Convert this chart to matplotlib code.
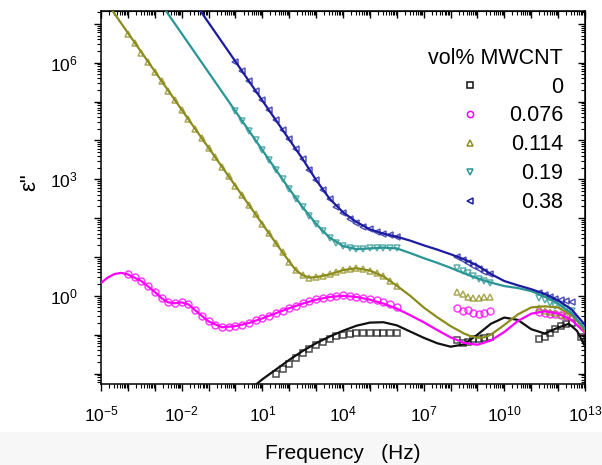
import numpy as np
import matplotlib
matplotlib.use('Agg')
import matplotlib.pyplot as plt
from matplotlib.ticker import LogLocator, FuncFormatter, NullFormatter
from matplotlib.patches import Rectangle

plt.rcParams['font.family'] = ['Liberation Sans', 'DejaVu Sans']
plt.rcParams['mathtext.default'] = 'regular'

# legend labels (vol% MWCNT), colours, markers
labels = ['0', '0.076', '0.114', '0.19', '0.38']
colors = ['#111111', '#ff00ff', '#8c8c1e', '#2a9595', '#1c1ca0']
markers = ['s', 'o', '^', 'v', '<']

# fitted curves: log10(f / Hz) and log10(eps'')
fit_f_0 = [0.7, 1, 1.5, 2, 2.5, 3, 3.5, 4, 4.5, 5, 5.5, 6, 6.5, 7, 7.5, 8, 8.5, 9, 9.5, 10,
           10.5, 11, 11.5, 12, 12.4, 12.7, 13]
fit_e_0 = [-2.32, -2.15, -1.9, -1.65, -1.42, -1.22, -1.05, -0.9, -0.77, -0.69, -0.68, -0.76,
           -0.92, -1.08, -1.22, -1.31, -1.25, -1.0, -0.72, -0.56, -0.62, -0.86, -0.97, -0.82,
           -0.72, -0.9, -1.3]

fit_f_1 = [-5, -4.75, -4.5, -4.25, -4, -3.5, -3, -2.75, -2.5, -2.25, -2, -1.75, -1.5, -1, -0.5,
           0, 0.5, 1, 1.5, 2, 2.5, 3, 3.5, 4, 4.5, 5, 5.5, 6, 6.5, 7, 7.5, 8, 8.5, 9, 9.5, 10,
           10.5, 11, 11.5, 12, 12.5, 13]
fit_e_1 = [0.33, 0.47, 0.56, 0.59, 0.55, 0.38, 0.1, -0.06, -0.17, -0.19, -0.17, -0.22, -0.37,
           -0.66, -0.81, -0.78, -0.7, -0.58, -0.45, -0.32, -0.2, -0.1, -0.03, 0.0, -0.03, -0.1,
           -0.2, -0.33, -0.5, -0.68, -0.88, -1.07, -1.21, -1.26, -1.15, -0.93, -0.65, -0.46,
           -0.4, -0.46, -0.62, -0.95]

fit_f_2 = [-4.6, -2, 0, 1.5, 2.0, 2.25, 2.5, 2.75, 3.0, 3.5, 4.0, 4.5, 5.0, 5.5, 6.0, 6.5, 7.0,
           7.5, 8.0, 8.5, 8.75, 9.0, 9.25, 9.5, 10.0, 10.5, 11.0, 11.5, 12.0, 12.5, 12.75, 13.0]
fit_e_2 = [7.36, 4.79, 2.83, 1.36, 0.88, 0.66, 0.53, 0.47, 0.48, 0.55, 0.66, 0.71, 0.65, 0.5,
           0.26, 0.0, -0.3, -0.55, -0.78, -0.97, -1.04, -1.08, -1.07, -1.0, -0.75, -0.48, -0.3,
           -0.27, -0.3, -0.5, -0.68, -0.92]

fit_f_3 = [-2.6, 0, 1.5, 2.0, 2.5, 3.0, 3.5, 4.0, 4.5, 5.0, 5.5, 6.0, 6.5, 7.0, 7.5, 8.0, 8.5,
           9.0, 9.5, 10.0, 10.5, 11.0, 11.5, 12.0, 12.5, 13.0]
fit_e_3 = [7.35, 4.75, 3.25, 2.75, 2.28, 1.85, 1.5, 1.28, 1.2, 1.22, 1.24, 1.22, 1.1, 0.97,
           0.85, 0.72, 0.58, 0.45, 0.34, 0.25, 0.2, 0.12, -0.02, -0.2, -0.45, -0.85]

fit_f_4 = [-1.35, 0, 2.5, 3.0, 3.5, 4.0, 4.5, 5.0, 5.5, 6.0, 6.5, 7.0, 7.5, 8.0, 8.5, 9.0, 9.5,
           10.0, 10.5, 11.0, 11.5, 12.0, 12.5, 13.0]
fit_e_4 = [7.38, 6.03, 3.52, 2.98, 2.5, 2.15, 1.9, 1.71, 1.6, 1.52, 1.42, 1.3, 1.19, 1.07, 0.94,
           0.78, 0.56, 0.38, 0.27, 0.17, 0.05, -0.12, -0.35, -0.75]

# measured points, low frequency run (quarter-decade steps up to 10^6 Hz)
lo_start = [1.5, -4.0, -4.0, 0.0, 0.0]
lo_e_0 = [-2.0, -1.88, -1.75, -1.6, -1.48, -1.37, -1.27, -1.18, -1.1, -1.04, -1.0, -0.98,
          -0.97, -0.96, -0.96, -0.96, -0.96, -0.96, -0.96]
lo_e_1 = [0.55, 0.48, 0.38, 0.25, 0.1, -0.06, -0.17, -0.18, -0.16, -0.22, -0.36, -0.52, -0.66,
          -0.76, -0.8, -0.8, -0.78, -0.74, -0.69, -0.63, -0.57, -0.51, -0.45, -0.38, -0.32,
          -0.25, -0.19, -0.14, -0.09, -0.05, -0.02, 0.0, 0.01, 0.0, -0.02, -0.05, -0.08, -0.12,
          -0.16, -0.22, -0.3]
lo_e_2 = [6.75, 6.51, 6.26, 6.02, 5.77, 5.53, 5.28, 5.04, 4.79, 4.55, 4.30, 4.06, 3.81, 3.57,
          3.32, 3.08, 2.83, 2.59, 2.34, 2.10, 1.85, 1.61, 1.36, 1.12, 0.88, 0.66, 0.53, 0.47,
          0.48, 0.51, 0.55, 0.61, 0.66, 0.7, 0.71, 0.69, 0.65, 0.58, 0.5, 0.38, 0.26]
lo_e_3 = [4.75, 4.5, 4.25, 4.0, 3.75, 3.5, 3.25, 3.0, 2.75, 2.5, 2.28, 2.05, 1.85, 1.66, 1.5,
          1.37, 1.28, 1.22, 1.2, 1.21, 1.22, 1.23, 1.24, 1.24, 1.23]
lo_e_4 = [6.03, 5.78, 5.53, 5.28, 5.03, 4.78, 4.53, 4.28, 4.03, 3.78, 3.52, 3.25, 2.98, 2.72,
          2.48, 2.28, 2.12, 1.98, 1.87, 1.78, 1.71, 1.65, 1.6, 1.56, 1.52]

# measured points, high frequency runs
hf1_f = [8.25, 8.45, 8.65, 8.85, 9.05, 9.25, 9.45]
hf2_f = [11.3, 11.5, 11.7, 11.9, 12.1, 12.3, 12.5]
hf2_f_0 = [11.3, 11.5, 11.7, 11.9, 12.1, 12.3, 12.5, 12.85]
hf1_e_0 = [-1.15, -1.22, -1.18, -1.12, -1.1, -1.08, -1.05]
hf2_e_0 = [-1.12, -1.05, -0.95, -0.85, -0.78, -0.72, -0.7, -1.05]
hf1_e_1 = [-0.32, -0.4, -0.36, -0.43, -0.46, -0.43, -0.38]
hf2_e_1 = [-0.42, -0.45, -0.47, -0.48, -0.5, -0.52, -0.55]
hf1_e_2 = [0.1, 0.05, -0.02, -0.05, -0.05, -0.04, -0.02]
hf2_e_2 = [-0.32, -0.38, -0.42, -0.45, -0.5, -0.52, -0.55]
hf1_e_3 = [0.72, 0.65, 0.58, 0.5, 0.43, 0.38, 0.33]
hf2_e_3 = [-0.05, -0.12, -0.18, -0.25, -0.3, -0.35, -0.4]
hf1_e_4 = [1.0, 0.92, 0.84, 0.77, 0.7, 0.62, 0.55]
hf2_e_4 = [0.08, 0.03, -0.02, -0.07, -0.1, -0.13, -0.16]

fits = [(fit_f_0, fit_e_0), (fit_f_1, fit_e_1), (fit_f_2, fit_e_2),
        (fit_f_3, fit_e_3), (fit_f_4, fit_e_4)]
lo = [lo_e_0, lo_e_1, lo_e_2, lo_e_3, lo_e_4]
hf1 = [hf1_e_0, hf1_e_1, hf1_e_2, hf1_e_3, hf1_e_4]
hf2 = [(hf2_f_0, hf2_e_0), (hf2_f, hf2_e_1), (hf2_f, hf2_e_2), (hf2_f, hf2_e_3), (hf2_f, hf2_e_4)]

fig = plt.figure(figsize=(6.02, 4.65), dpi=100)
fig.patches.append(Rectangle((0, 0), 1, 0.07, transform=fig.transFigure,
                             color='#f7f7f7', zorder=-1))
ax = fig.add_axes([101 / 602, 81 / 465, 484 / 602, 373 / 465])

handles = []
for i in range(5):
    mk = dict(marker=markers[i], ls='none', ms=5, mfc='none', mec=colors[i], mew=1.1,
              alpha=0.75, zorder=2)
    lf = lo_start[i] + 0.25 * np.arange(len(lo[i]))
    h, = ax.plot(10.0 ** lf, 10.0 ** np.array(lo[i]), label=labels[i], **mk)
    ax.plot(10.0 ** np.array(hf1_f), 10.0 ** np.array(hf1[i]), **mk)
    ax.plot(10.0 ** np.array(hf2[i][0]), 10.0 ** np.array(hf2[i][1]), **mk)
    ax.plot(10.0 ** np.array(fits[i][0]), 10.0 ** np.array(fits[i][1]), color=colors[i],
            lw=1.6, zorder=3)
    handles.append(h)

ax.set_xscale('log')
ax.set_yscale('log')
ax.set_xlim(1e-5, 1e13)
ax.set_ylim(10 ** -2.27, 10 ** 7.33)


def xfmt(v, pos):
    e = int(round(np.log10(v)))
    return r'$10^{%d}$' % e if (e + 5) % 3 == 0 else ''


def yfmt(v, pos):
    e = int(round(np.log10(v)))
    return r'$10^{%d}$' % e if e % 3 == 0 else ''


def log_ticks(axis):
    axis.set_major_locator(LogLocator(base=10, numticks=40))
    axis.set_minor_locator(LogLocator(base=10, subs=np.arange(2, 10), numticks=40))
    axis.set_minor_formatter(NullFormatter())


log_ticks(ax.xaxis)
log_ticks(ax.yaxis)
ax.xaxis.set_major_formatter(FuncFormatter(xfmt))
ax.yaxis.set_major_formatter(FuncFormatter(yfmt))
ax.tick_params(axis='x', which='major', direction='out', length=5, width=1, pad=10,
               labelsize=12.5)
ax.tick_params(axis='y', which='major', direction='out', length=5, width=1, pad=12,
               labelsize=12.5)
ax.tick_params(which='minor', direction='out', length=3, width=0.8)
for s in ax.spines.values():
    s.set_linewidth(1.1)

# mirrored ticks on top and right point inwards
top = ax.secondary_xaxis('top')
right = ax.secondary_yaxis('right')
for axis in [top.xaxis, right.yaxis]:
    log_ticks(axis)
    axis.set_major_formatter(NullFormatter())
for sec in [top, right]:
    sec.tick_params(which='major', direction='in', length=5, width=1)
    sec.tick_params(which='minor', direction='in', length=3, width=0.8)

ax.set_xlabel('Frequency   (Hz)', fontsize=15)
ax.xaxis.set_label_coords(0.5, -0.16)
ax.set_ylabel('ε"', fontsize=16)
ax.yaxis.set_label_coords(-0.125, 0.54)

leg = ax.legend(handles, labels, loc='upper right', bbox_to_anchor=(0.955, 0.902),
                frameon=False, title='vol% MWCNT', alignment='right', fontsize=15.5,
                title_fontsize=15.5, handlelength=0.8, handletextpad=1.4,
                labelspacing=0.37, borderaxespad=0, borderpad=0, numpoints=1)
for lh in leg.legend_handles:
    lh.set_alpha(1)
    lh.set_markersize(4.5)

# right-align the legend numbers
fig.canvas.draw()
rend = fig.canvas.get_renderer()
texts = leg.get_texts()
widths = [t.get_window_extent(rend).width for t in texts]
for t, w in zip(texts, widths):
    t.set_position((max(widths) - w, 0))

fig.savefig('out.png', dpi=100)
